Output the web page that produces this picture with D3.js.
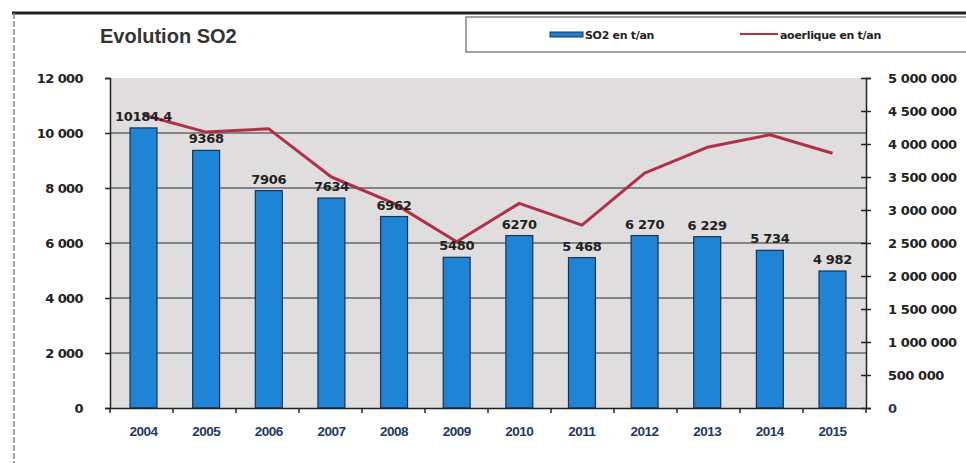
<!DOCTYPE html>
<html><head><meta charset="utf-8">
<script src="https://cdn.jsdelivr.net/npm/d3@7"></script>
<style>body{margin:0;background:#fff}svg{display:block}</style>
</head><body>
<script>
const years = ["2004","2005","2006","2007","2008","2009","2010","2011","2012","2013","2014","2015"];
const so2 = [10184.4, 9368, 7906, 7634, 6962, 5480, 6270, 5468, 6270, 6229, 5734, 4982];
const so2Labels = ["10184.4","9368","7906","7634","6962","5480","6270","5 468","6 270","6 229","5 734","4 982"];
const lineVals = [4440000, 4180000, 4230000, 3500000, 3100000, 2520000, 3100000, 2770000, 3560000, 3950000, 4140000, 3860000];
const leftTicks = [0,2000,4000,6000,8000,10000,12000];
const rightTicks = [0,500000,1000000,1500000,2000000,2500000,3000000,3500000,4000000,4500000,5000000];
const title = "Evolution SO2";
const legendNames = ["SO2 en t/an","aoerlique en t/an"];

const W=966,H=463;
const svg=d3.select("body").append("svg").attr("width",W).attr("height",H);
const L=110,R=866,T=78,B=408;
const fmt = v => d3.format(",")(v).replace(/,/g," ");
const F1="DejaVu Sans, Verdana, sans-serif";

const x=d3.scaleBand().domain(years).range([L,R]).paddingInner(0.57).paddingOuter(0.32);
const y=d3.scaleLinear().domain([0,12000]).range([B,T]);
const y2=d3.scaleLinear().domain([0,5000000]).range([B,T]);

// frame
svg.append("line").attr("x1",12).attr("x2",W).attr("y1",13).attr("y2",13).attr("stroke","#222").attr("stroke-width",3);
svg.append("line").attr("x1",14).attr("x2",14).attr("y1",13).attr("y2",H).attr("stroke","#888").attr("stroke-width",1.5).attr("stroke-dasharray","6,2");

// plot background
svg.append("rect").attr("x",L).attr("y",T).attr("width",R-L).attr("height",B-T).attr("fill","#e0dddf");

// gridlines
svg.append("g").selectAll("line").data(leftTicks.filter(d=>d>0&&d<12000)).join("line")
  .attr("x1",L).attr("x2",R).attr("y1",d=>y(d)).attr("y2",d=>y(d))
  .attr("stroke","#666").attr("stroke-width",1.5);

// title
svg.append("text").attr("x",100).attr("y",43).text(title)
  .attr("font-family","Liberation Sans, Arial").attr("font-weight","bold").attr("font-size",20).attr("fill","#333");

// legend
const lg=svg.append("g");
lg.append("rect").attr("x",466).attr("y",17).attr("width",520).attr("height",35).attr("fill","#fff").attr("stroke","#666").attr("stroke-width",1.2);
lg.append("rect").attr("x",550).attr("y",32).attr("width",33).attr("height",5).attr("fill","#1e7fd0").attr("stroke","#1a3552");
lg.append("text").attr("x",585).attr("y",39).text(legendNames[0]).attr("font-family",F1).attr("font-weight","bold").attr("font-size",11).attr("fill","#222").attr("letter-spacing","-0.3");
lg.append("line").attr("x1",740).attr("x2",778).attr("y1",34).attr("y2",34).attr("stroke","#b0304a").attr("stroke-width",2);
lg.append("text").attr("x",780).attr("y",39).text(legendNames[1]).attr("font-family",F1).attr("font-weight","bold").attr("font-size",11).attr("fill","#222").attr("letter-spacing","-0.3");

// bars
svg.append("g").selectAll("rect").data(years).join("rect")
  .attr("x",d=>x(d)).attr("width",x.bandwidth())
  .attr("y",(d,i)=>y(so2[i])).attr("height",(d,i)=>B-y(so2[i]))
  .attr("fill","#1f84d6").attr("stroke","#17334f").attr("stroke-width",1.2);

// line
svg.append("path").datum(lineVals)
  .attr("d",d3.line().x((d,i)=>x(years[i])+x.bandwidth()/2).y(d=>y2(d)))
  .attr("fill","none").attr("stroke","#b0304a").attr("stroke-width",3).attr("stroke-linejoin","round");

// bar labels
svg.append("g").selectAll("text").data(years).join("text")
  .attr("x",d=>x(d)+x.bandwidth()/2).attr("y",(d,i)=>y(so2[i])-7)
  .attr("text-anchor","middle").text((d,i)=>so2Labels[i])
  .attr("font-family",F1).attr("font-weight","bold").attr("font-size",13).attr("fill","#222").attr("letter-spacing","-0.3");

// left axis
const ax=svg.append("g").attr("transform",`translate(${L},0)`)
  .call(d3.axisLeft(y).tickValues(leftTicks).tickFormat(fmt).tickSize(5).tickPadding(22));
ax.select(".domain").attr("stroke","#222").attr("stroke-width",1.5);
ax.selectAll(".tick line").attr("stroke","#222").attr("stroke-width",1.5);
ax.selectAll("text").attr("font-family",F1).attr("font-weight","bold").attr("font-size",13).attr("fill","#222").attr("letter-spacing","-0.6");

// right axis
const ar=svg.append("g").attr("transform",`translate(${R},0)`)
  .call(d3.axisRight(y2).tickValues(rightTicks).tickFormat(fmt).tickSize(5).tickPadding(17));
ar.select(".domain").attr("stroke","#222").attr("stroke-width",1.5);
ar.selectAll(".tick line").attr("stroke","#222").attr("stroke-width",1.5).attr("x1",-5);
ar.selectAll("text").attr("font-family",F1).attr("font-weight","bold").attr("font-size",13).attr("fill","#222").attr("letter-spacing","-0.4");
ar.selectAll(".tick").filter(d=>d===0).select("text").attr("fill","#1f3864");

// bottom axis
const ab=svg.append("g").attr("transform",`translate(0,${B})`)
  .call(d3.axisBottom(x).tickSize(0).tickPadding(18));
ab.select(".domain").attr("stroke","#222").attr("stroke-width",1.5);
ab.selectAll("text").attr("font-family","Liberation Sans, Arial").attr("font-weight","bold").attr("font-size",13.5).attr("fill","#1f3864").attr("letter-spacing","-0.5");
svg.append("g").selectAll("line").data(d3.range(years.length+1)).join("line")
  .attr("x1",i=>L+i*(R-L)/years.length).attr("x2",i=>L+i*(R-L)/years.length)
  .attr("y1",B).attr("y2",B+5).attr("stroke","#222").attr("stroke-width",1.5);
</script>
</body></html>
